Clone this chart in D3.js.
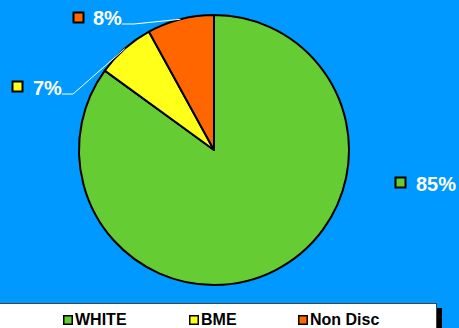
<!DOCTYPE html>
<html>
<head>
<meta charset="utf-8">
<script src="https://cdn.jsdelivr.net/npm/d3@7"></script>
<style>
  html, body { margin: 0; padding: 0; background: #0099FF; }
  svg { display: block; }
</style>
</head>
<body>
<svg id="chart" width="459" height="328"></svg>
<script>
// Workforce split by ethnicity
const categories = ["WHITE", "BME", "Non Disc"];
const shares = [85, 7, 8];
const colors = ["#66CC33", "#FFFF19", "#FF6600"];
const valueLabels = ["85%", "7%", "8%"];

const svg = d3.select("#chart");
const W = 459, H = 328;

svg.append("rect").attr("width", W).attr("height", H).attr("fill", "#0099FF");

const cx = 214, cy = 150, R = 135;

const pie = d3.pie().sort(null).value(d => d.v).startAngle(0).endAngle(2 * Math.PI);
const data = categories.map((c, i) => ({ c, v: shares[i], color: colors[i], label: valueLabels[i] }));
const arcs = pie(data);
const arc = d3.arc().innerRadius(0).outerRadius(R);

const g = svg.append("g").attr("transform", `translate(${cx},${cy})`);
g.selectAll("path.slice")
  .data(arcs)
  .join("path")
  .attr("class", "slice")
  .attr("d", arc)
  .attr("fill", d => d.data.color)
  .attr("stroke", "#000")
  .attr("stroke-width", 2)
  .attr("stroke-linejoin", "round");

// Data label positions (marker top-left, text start and baseline)
const labelPos = {
  "WHITE":    { mx: 395, my: 177, tx: 416, ty: 191, leader: false },
  "BME":      { mx: 12,  my: 81,  tx: 33,  ty: 95,  leader: true, hx: 73 },
  "Non Disc": { mx: 73,  my: 12,  tx: 93,  ty: 25,  leader: true, hx: 134 }
};

const labels = svg.append("g");
arcs.forEach(a => {
  const p = labelPos[a.data.c];
  if (p.leader) {
    const mid = (a.startAngle + a.endAngle) / 2;
    const ex = cx + R * Math.sin(mid);
    const ey = cy - R * Math.cos(mid);
    const textW = 29;
    labels.append("path")
      .attr("d", `M${p.tx + textW},${p.ty - 1}L${p.hx},${p.ty - 1}L${ex},${ey}`)
      .attr("fill", "none")
      .attr("stroke", "#fff")
      .attr("stroke-width", 1);
  }
  labels.append("rect")
    .attr("x", p.mx + 0.5).attr("y", p.my + 0.5)
    .attr("width", 10).attr("height", 10)
    .attr("fill", a.data.color)
    .attr("stroke", "#000")
    .attr("stroke-width", 2);
  labels.append("text")
    .attr("x", p.tx).attr("y", p.ty)
    .attr("fill", "#fff")
    .attr("font-family", "Liberation Sans, Arial, sans-serif")
    .attr("font-weight", "bold")
    .attr("font-size", 20)
    .text(a.data.label);
});

// Legend box with drop shadow
const legend = svg.append("g");
legend.append("rect")
  .attr("x", 6).attr("y", 308).attr("width", 436).attr("height", 30)
  .attr("fill", "#000");
legend.append("rect")
  .attr("x", -1).attr("y", 303.5).attr("width", 437.5).attr("height", 30)
  .attr("fill", "#fff")
  .attr("stroke", "#444")
  .attr("stroke-width", 1);

const legendX = [63, 189, 298];
categories.forEach((c, i) => {
  legend.append("rect")
    .attr("x", legendX[i] + 0.75).attr("y", 315.75)
    .attr("width", 8.5).attr("height", 8.5)
    .attr("fill", colors[i])
    .attr("stroke", "#000")
    .attr("stroke-width", 1.5);
  legend.append("text")
    .attr("x", legendX[i] + 12).attr("y", 325)
    .attr("fill", "#000")
    .attr("font-family", "Liberation Sans, Arial, sans-serif")
    .attr("font-weight", "bold")
    .attr("font-size", 16)
    .text(c);
});
</script>
</body>
</html>
